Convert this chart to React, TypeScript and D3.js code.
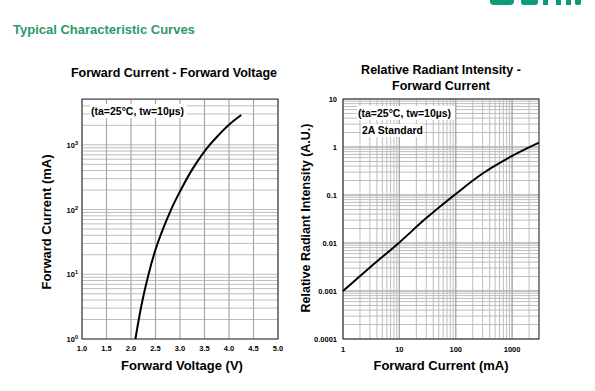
import React from "react";
import * as d3 from "d3";

const W = 595;
const H = 391;

// Left chart: Forward Current vs Forward Voltage
const fvVoltage = [2.09, 2.25, 2.5, 2.8, 3.0, 3.25, 3.5, 3.75, 4.0, 4.25];
const fvCurrent = [1, 4.5, 24, 93, 190, 417, 794, 1318, 2042, 2884];
const fvXTicks = [1.0, 1.5, 2.0, 2.5, 3.0, 3.5, 4.0, 4.5, 5.0];
const fvYExponents = [0, 1, 2, 3];

// Right chart: Relative Radiant Intensity vs Forward Current
const riCurrent = [1, 3, 10, 30, 100, 300, 1000, 3000];
const riIntensity = [0.001, 0.0031, 0.0103, 0.033, 0.105, 0.28, 0.65, 1.23];
const riXTicks = [1, 10, 100, 1000];
const riXTickLabels = ["1", "10", "100", "1000"];
const riYTicks = [0.0001, 0.001, 0.01, 0.1, 1, 10];
const riYTickLabels = ["0.0001", "0.001", "0.01", "0.1", "1", "10"];

const FONT = "'Liberation Sans', Arial, sans-serif";
const GRID = "#a8a8a8";
const GRID_MINOR = "#bdbdbd";

function minorLogValues(lo: number, hi: number) {
  const out: number[] = [];
  for (let e = Math.floor(Math.log10(lo)); e <= Math.ceil(Math.log10(hi)); e++) {
    for (let m = 1; m <= 9; m++) {
      const v = m * Math.pow(10, e);
      if (v >= lo * 0.999 && v <= hi * 1.001) out.push(v);
    }
  }
  return out;
}

export default function App() {
  // Left plot geometry
  const L = { x0: 82, x1: 278, y0: 99, y1: 339 };
  const lx = d3.scaleLinear().domain([1, 5]).range([L.x0, L.x1]);
  const ly = d3.scaleLog().domain([1, 5100]).range([L.y1, L.y0]);
  const lMinor = minorLogValues(1, 5100);
  const lLine = d3
    .line<number>()
    .x((_, i) => lx(fvVoltage[i]))
    .y((_, i) => ly(fvCurrent[i]))
    .curve(d3.curveCatmullRom.alpha(0.5));

  // Right plot geometry
  const R = { x0: 343, x1: 539, y0: 99, y1: 339 };
  const rx = d3.scaleLog().domain([1, 3000]).range([R.x0, R.x1]);
  const ry = d3.scaleLog().domain([0.0001, 10]).range([R.y1, R.y0]);
  const rxMinor = minorLogValues(1, 3000);
  const ryMinor = minorLogValues(0.0001, 10);
  const rLine = d3
    .line<number>()
    .x((_, i) => rx(riCurrent[i]))
    .y((_, i) => ry(riIntensity[i]))
    .curve(d3.curveCatmullRom.alpha(0.5));

  const LOGO = "#0a9b7a";

  return (
    <svg
      width={W}
      height={H}
      style={{ position: "absolute", left: 0, top: 0, background: "#fff" }}
      fontFamily={FONT}
    >
      <rect x={0} y={0} width={W} height={H} fill="#fff" />
      {/* cropped logo strokes at top right */}
      <g fill={LOGO}>
        <rect x={490} y={-3} width={24} height={8} rx={4} />
        <rect x={521} y={-3} width={17} height={8} rx={3} />
        <rect x={543} y={-3} width={5} height={8} />
        <rect x={556} y={-3} width={5} height={8} />
        <rect x={566} y={-3} width={5} height={8} />
        <rect x={575} y={-3} width={6} height={8} rx={2} />
      </g>
      <text x={13} y={34} fontSize={13} fontWeight="bold" fill="#2b9a6a">
        Typical Characteristic Curves
      </text>

      {/* ===== Left chart ===== */}
      <text x={(L.x0 + L.x1) / 2 - 6} y={77} fontSize={12.5} fontWeight="bold" textAnchor="middle" fill="#000">
        Forward Current - Forward Voltage
      </text>
      <g>
        {lMinor.map((v, i) => (
          <line key={"lh" + i} x1={L.x0} x2={L.x1} y1={ly(v)} y2={ly(v)} stroke={GRID_MINOR} strokeWidth={1} />
        ))}
        {fvXTicks.map((v, i) => (
          <line key={"lv" + i} x1={lx(v)} x2={lx(v)} y1={L.y0} y2={L.y1} stroke={GRID} strokeWidth={1.2} />
        ))}
        <rect x={L.x0} y={L.y0} width={L.x1 - L.x0} height={L.y1 - L.y0} fill="none" stroke="#333" strokeWidth={1} />
        <rect x={90} y={104} width={97} height={14} fill="#fff" />
        <text x={91} y={115} fontSize={10.5} fontWeight="bold" fill="#000">
          (ta=25°C, tw=10µs)
        </text>
        <path d={lLine(fvVoltage) || ""} fill="none" stroke="#000" strokeWidth={2} />
        {fvXTicks.map((v, i) => (
          <text key={"lxt" + i} x={lx(v)} y={351} fontSize={7.5} fontWeight="bold" textAnchor="middle" fill="#000">
            {v.toFixed(1)}
          </text>
        ))}
        {fvYExponents.map((e, i) => (
          <text key={"lyt" + i} x={L.x0 - 4} y={ly(Math.pow(10, e)) + 3} fontSize={7.5} fontWeight="bold" textAnchor="end" fill="#000">
            10
            <tspan dy={-3} fontSize={5.5}>{e}</tspan>
          </text>
        ))}
        <text x={(L.x0 + L.x1) / 2 + 2} y={370} fontSize={13} fontWeight="bold" textAnchor="middle" fill="#000">
          Forward Voltage (V)
        </text>
        <text
          transform={`translate(51, ${(L.y0 + L.y1) / 2 + 3}) rotate(-90)`}
          fontSize={13}
          fontWeight="bold"
          textAnchor="middle"
          fill="#000"
        >
          Forward Current (mA)
        </text>
      </g>

      {/* ===== Right chart ===== */}
      <text x={441} y={74} fontSize={12.5} fontWeight="bold" textAnchor="middle" fill="#000">
        Relative Radiant Intensity -
      </text>
      <text x={441} y={90} fontSize={12.5} fontWeight="bold" textAnchor="middle" fill="#000">
        Forward Current
      </text>
      <g>
        {ryMinor.map((v, i) => (
          <line key={"rh" + i} x1={R.x0} x2={R.x1} y1={ry(v)} y2={ry(v)} stroke={GRID_MINOR} strokeWidth={1} />
        ))}
        {rxMinor.map((v, i) => (
          <line key={"rv" + i} x1={rx(v)} x2={rx(v)} y1={R.y0} y2={R.y1} stroke={GRID_MINOR} strokeWidth={1} />
        ))}
        {riXTicks.map((v, i) => (
          <line key={"rvM" + i} x1={rx(v)} x2={rx(v)} y1={R.y0} y2={R.y1} stroke={GRID} strokeWidth={1.2} />
        ))}
        {riYTicks.map((v, i) => (
          <line key={"rhM" + i} x1={R.x0} x2={R.x1} y1={ry(v)} y2={ry(v)} stroke={GRID} strokeWidth={1.2} />
        ))}
        <rect x={R.x0} y={R.y0} width={R.x1 - R.x0} height={R.y1 - R.y0} fill="none" stroke="#333" strokeWidth={1} />
        <rect x={357} y={106} width={98} height={14} fill="#fff" />
        <text x={358} y={117} fontSize={10.5} fontWeight="bold" fill="#000">
          (ta=25°C, tw=10µs)
        </text>
        <rect x={361} y={124} width={62} height={13} fill="#fff" />
        <text x={362} y={134} fontSize={10.4} fontWeight="bold" fill="#000">
          2A Standard
        </text>
        <path d={rLine(riCurrent) || ""} fill="none" stroke="#000" strokeWidth={2} />
        {riXTicks.map((v, i) => (
          <text key={"rxt" + i} x={rx(v)} y={352} fontSize={7.5} fontWeight="bold" textAnchor="middle" fill="#000">
            {riXTickLabels[i]}
          </text>
        ))}
        {riYTicks.map((v, i) => (
          <text key={"ryt" + i} x={R.x0 - 6} y={ry(v) + 3} fontSize={7.5} fontWeight="bold" textAnchor="end" fill="#000">
            {riYTickLabels[i]}
          </text>
        ))}
        <text x={441} y={370} fontSize={13} fontWeight="bold" textAnchor="middle" fill="#000">
          Forward Current (mA)
        </text>
        <text
          transform={`translate(310, 218) rotate(-90)`}
          fontSize={12.5}
          fontWeight="bold"
          textAnchor="middle"
          fill="#000"
        >
          Relative Radiant Intensity (A.U.)
        </text>
      </g>
    </svg>
  );
}
